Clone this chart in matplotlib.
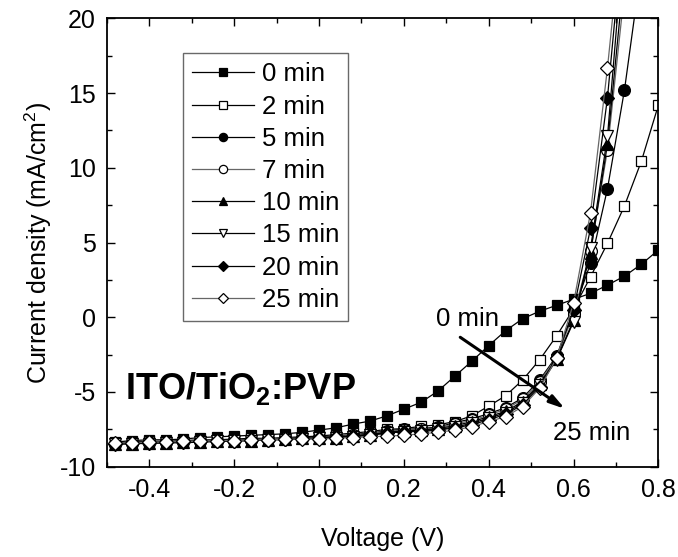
import numpy as np
import matplotlib
matplotlib.use("Agg")
import matplotlib.pyplot as plt

plt.rcParams['font.family'] = ['Liberation Sans', 'DejaVu Sans']
plt.rcParams['mathtext.fontset'] = 'custom'
plt.rcParams['mathtext.rm'] = 'Liberation Sans'
plt.rcParams['mathtext.bf'] = 'Liberation Sans:bold'
plt.rcParams['mathtext.default'] = 'regular'
plt.rcParams['axes.unicode_minus'] = False

# voltage grid (V)
voltage = [-0.48, -0.44, -0.40, -0.36, -0.32, -0.28, -0.24, -0.20, -0.16, -0.12, -0.08,
           -0.04, 0.00, 0.04, 0.08, 0.12, 0.16, 0.20, 0.24, 0.28, 0.32, 0.36, 0.40,
           0.44, 0.48, 0.52, 0.56, 0.60, 0.64, 0.68, 0.72, 0.76, 0.80]

# current density (mA/cm2)
j_0 = [-8.35, -8.25, -8.20, -8.20, -8.15, -8.05, -8.00, -7.95, -7.90, -7.85, -7.80,
       -7.70, -7.55, -7.40, -7.15, -6.95, -6.60, -6.15, -5.70, -4.95, -3.95, -2.95, -1.90,
       -0.90, -0.10, 0.40, 0.80, 1.20, 1.60, 2.15, 2.75, 3.55, 4.50]
j_2 = [-8.40, -8.35, -8.30, -8.30, -8.25, -8.20, -8.20, -8.15, -8.10, -8.10, -8.05,
       -8.00, -7.95, -7.85, -7.75, -7.65, -7.50, -7.45, -7.30, -7.20, -6.98, -6.60, -5.95,
       -5.25, -4.20, -2.85, -1.25, 0.55, 2.70, 4.95, 7.45, 10.45, 14.20]
j_5 = [-8.45, -8.40, -8.35, -8.35, -8.30, -8.30, -8.25, -8.20, -8.20, -8.15, -8.10,
       -8.05, -8.00, -7.95, -7.85, -7.75, -7.60, -7.50, -7.45, -7.35, -7.05, -6.80, -6.45,
       -6.05, -5.40, -4.20, -2.60, 0.40, 3.60, 8.60, 15.20, 23.50, 33.0]
j_7 = [-8.45, -8.40, -8.40, -8.35, -8.35, -8.30, -8.25, -8.25, -8.20, -8.15, -8.10,
       -8.10, -8.05, -8.00, -7.90, -7.80, -7.65, -7.55, -7.50, -7.40, -7.15, -6.90, -6.55,
       -6.15, -5.50, -4.30, -2.70, 0.20, 4.40, 11.20, 21.80, 32.0, 45.0]
j_10 = [-8.50, -8.45, -8.40, -8.40, -8.35, -8.35, -8.30, -8.25, -8.25, -8.20, -8.15,
        -8.10, -8.10, -8.05, -7.95, -7.85, -7.70, -7.60, -7.55, -7.45, -7.25, -7.00, -6.65,
        -6.30, -5.65, -4.45, -2.80, -0.20, 4.30, 11.60, 23.20, 34.0, 46.0]
j_15 = [-8.50, -8.45, -8.45, -8.40, -8.40, -8.35, -8.30, -8.30, -8.25, -8.20, -8.20,
        -8.15, -8.10, -8.05, -8.00, -7.90, -7.75, -7.65, -7.60, -7.50, -7.35, -7.10, -6.75,
        -6.40, -5.75, -4.55, -2.85, -0.30, 4.60, 12.10, 25.80, 36.0, 48.0]
j_20 = [-8.45, -8.40, -8.40, -8.35, -8.35, -8.30, -8.30, -8.25, -8.20, -8.20, -8.15,
        -8.10, -8.10, -8.00, -7.95, -7.85, -7.75, -7.65, -7.65, -7.55, -7.40, -7.20, -6.85,
        -6.50, -5.85, -4.65, -2.70, 0.50, 5.95, 14.70, 26.80, 38.0, 50.0]
j_25 = [-8.40, -8.40, -8.35, -8.35, -8.30, -8.30, -8.25, -8.25, -8.20, -8.20, -8.15,
        -8.15, -8.15, -8.10, -8.05, -8.00, -7.95, -7.90, -7.80, -7.70, -7.55, -7.32, -6.98,
        -6.65, -5.98, -4.75, -2.75, 0.95, 7.00, 16.70, 27.80, 39.0, 52.0]

labels = ["0 min", "2 min", "5 min", "7 min", "10 min", "15 min", "20 min", "25 min"]
series = [j_0, j_2, j_5, j_7, j_10, j_15, j_20, j_25]
markers = ['s', 's', 'o', 'o', '^', 'v', 'D', 'D']
filled = [True, False, True, False, True, False, True, False]
line_colors = ['black', 'black', 'black', '#666666', 'black', 'black', 'black', '#666666']
msizes = [7.5, 7.5, 8.5, 8.5, 9, 9, 7.5, 7.5]

fig = plt.figure(figsize=(6.78, 5.57), dpi=100)
ax = fig.add_axes([0.1575, 0.1621, 0.8136, 0.8050])

for j, lab, m, f, lc, ms in zip(series, labels, markers, filled, line_colors, msizes):
    ax.plot(voltage, j, color=lc, lw=0.9, marker=m, markersize=ms,
            markerfacecolor='black' if f else 'white', markeredgecolor='black',
            markeredgewidth=0.9, label=lab)

ax.set_xlim(-0.5, 0.8)
ax.set_ylim(-10, 20)
ax.set_xticks([-0.4, -0.2, 0.0, 0.2, 0.4, 0.6, 0.8])
ax.set_xticks(np.arange(-0.5, 0.81, 0.1), minor=True)
ax.set_yticks([-10, -5, 0, 5, 10, 15, 20])
ax.set_yticks(np.arange(-10, 20.1, 2.5), minor=True)
ax.xaxis.set_major_formatter(matplotlib.ticker.FormatStrFormatter('%.1f'))
ax.tick_params(which='both', direction='in', top=True, right=True, labelsize=18,
               width=1.0, pad=8)
ax.tick_params(which='major', length=6)
ax.tick_params(which='minor', length=3.5)
for s in ax.spines.values():
    s.set_linewidth(1.3)

ax.set_xlabel("Voltage (V)", fontsize=18, labelpad=18)
ax.set_ylabel("Current density (mA/cm$^2$)", fontsize=18, labelpad=4)

leg = ax.legend(loc='upper left', bbox_to_anchor=(0.1385, 0.922), borderaxespad=0,
                fontsize=18.5, frameon=True, fancybox=False, markerscale=0.7,
                handlelength=2.4, handletextpad=0.3, labelspacing=0.32,
                borderpad=0.35)
leg.get_frame().set_edgecolor('#444444')
leg.get_frame().set_linewidth(1.0)

ax.text(-0.457, -5.49, r"ITO/TiO$_\mathbf{2}$:PVP", fontsize=26, fontweight='bold')
ax.text(0.276, -0.58, "0 min", fontsize=18.5)
ax.text(0.552, -8.2, "25 min", fontsize=18.5)
ax.annotate("", xy=(0.58, -6.13), xytext=(0.333, -1.34),
            arrowprops=dict(arrowstyle='-|>,head_length=0.9,head_width=0.25',
                            color='black', lw=2.2, shrinkA=0, shrinkB=0))

fig.savefig("out.png", dpi=100)
